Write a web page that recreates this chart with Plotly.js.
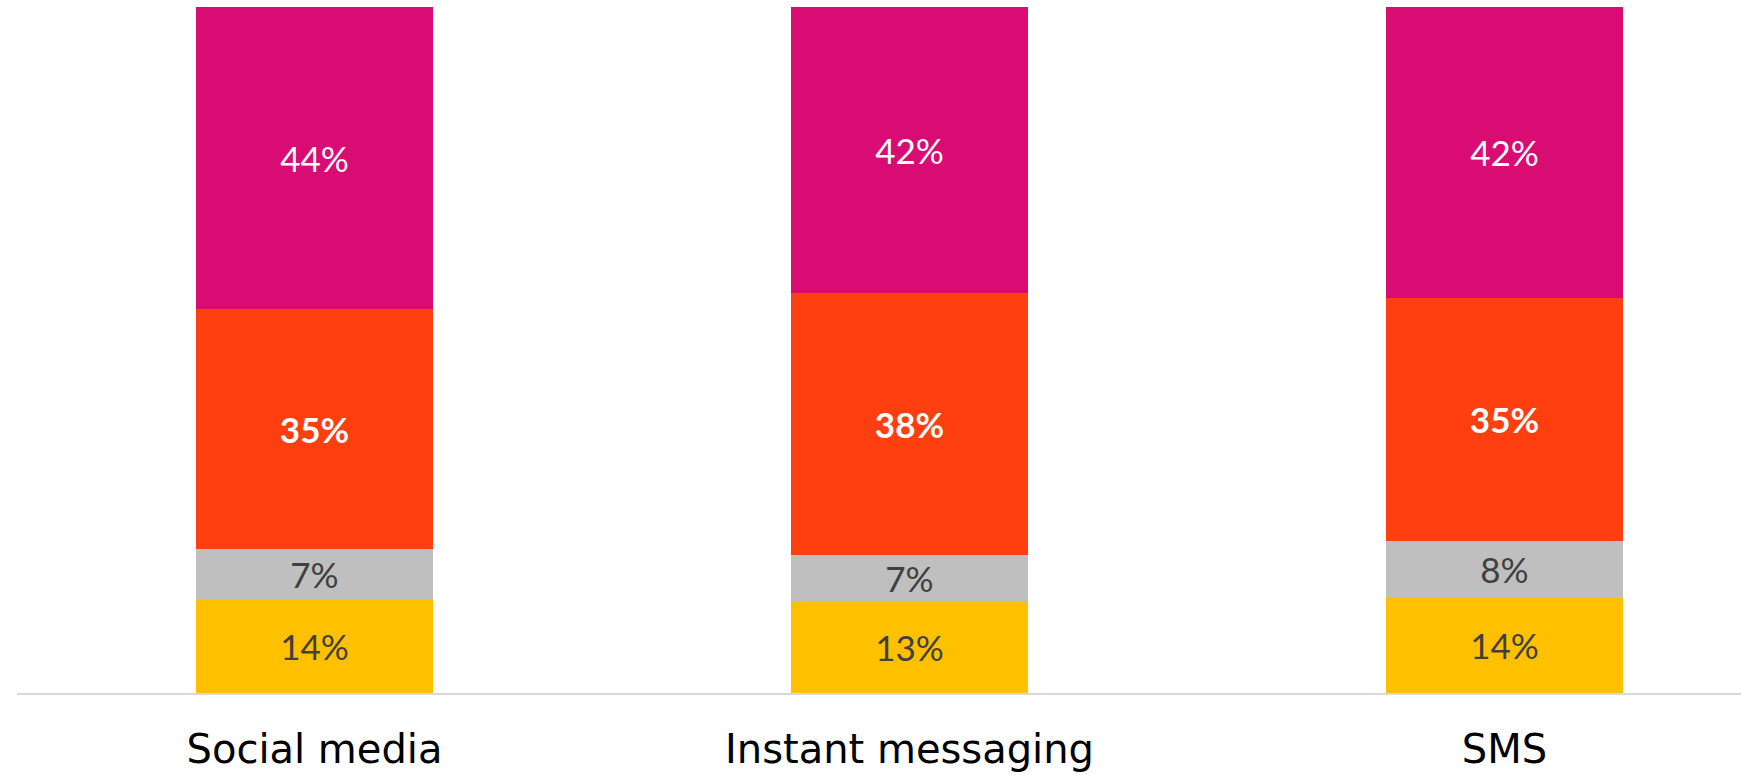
<!DOCTYPE html>
<html>
<head>
<meta charset="utf-8">
<script src="https://cdn.plot.ly/plotly-3.0.1.min.js"></script>
<style>
html,body{margin:0;padding:0;background:#fff;}
#chart{width:1741px;height:775px;}
</style>
</head>
<body>
<div id="chart"></div>
<script>
// Categories (x axis)
const categories = ["Social media", "Instant messaging", "SMS"];
// Stacked shares (%), bottom to top
const seriesYellow  = [13.6, 13.3, 13.9];
const seriesGray    = [7.4, 6.8, 8.3];
const seriesOrange  = [35.0, 38.2, 35.4];
const seriesMagenta = [44.0, 41.7, 42.4];

const FONT = "Century Gothic, URW Gothic, Lato, sans-serif";
const TICKFONT = "Century Gothic, URW Gothic, DejaVu Sans, sans-serif";

function mk(name, vals, color, txtColor, bold) {
  return {
    type: "bar",
    name: name,
    x: categories,
    y: vals,
    width: 0.398,
    marker: {color: color, line: {width: 0}},
    texttemplate: bold ? "<b>%{y:.0f}%</b>" : "%{y:.0f}%",
    textposition: "inside",
    insidetextanchor: "middle",
    textangle: 0,
    textfont: {family: FONT, size: 35, color: txtColor},
    hoverinfo: "skip"
  };
}

const data = [
  mk("Segment 1", seriesYellow, "#FFC000", "#404040", false),
  mk("Segment 2", seriesGray, "#BFBFBF", "#404040", false),
  mk("Segment 3", seriesOrange, "#FF3F0F", "#FFFFFF", true),
  mk("Segment 4", seriesMagenta, "#D90C73", "#FFFFFF", false)
];

const layout = {
  width: 1741,
  height: 775,
  margin: {l: 17, r: 0, t: 7, b: 82, pad: 0},
  barmode: "stack",
  showlegend: false,
  paper_bgcolor: "#ffffff",
  plot_bgcolor: "#ffffff",
  uniformtext: {mode: "show", minsize: 35},
  font: {family: FONT, color: "#000000"},
  xaxis: {
    type: "category",
    range: [-0.5, 2.3975],
    showline: true,
    linecolor: "#D9D9D9",
    linewidth: 2,
    showgrid: false,
    zeroline: false,
    ticks: "",
    tickfont: {family: TICKFONT, size: 40, color: "#000000"},
    ticklabelstandoff: 20
  },
  yaxis: {
    range: [0, 100],
    showgrid: false,
    zeroline: false,
    showline: false,
    showticklabels: false,
    ticks: ""
  }
};

Plotly.newPlot("chart", data, layout, {displayModeBar: false, staticPlot: true});
</script>
</body>
</html>
